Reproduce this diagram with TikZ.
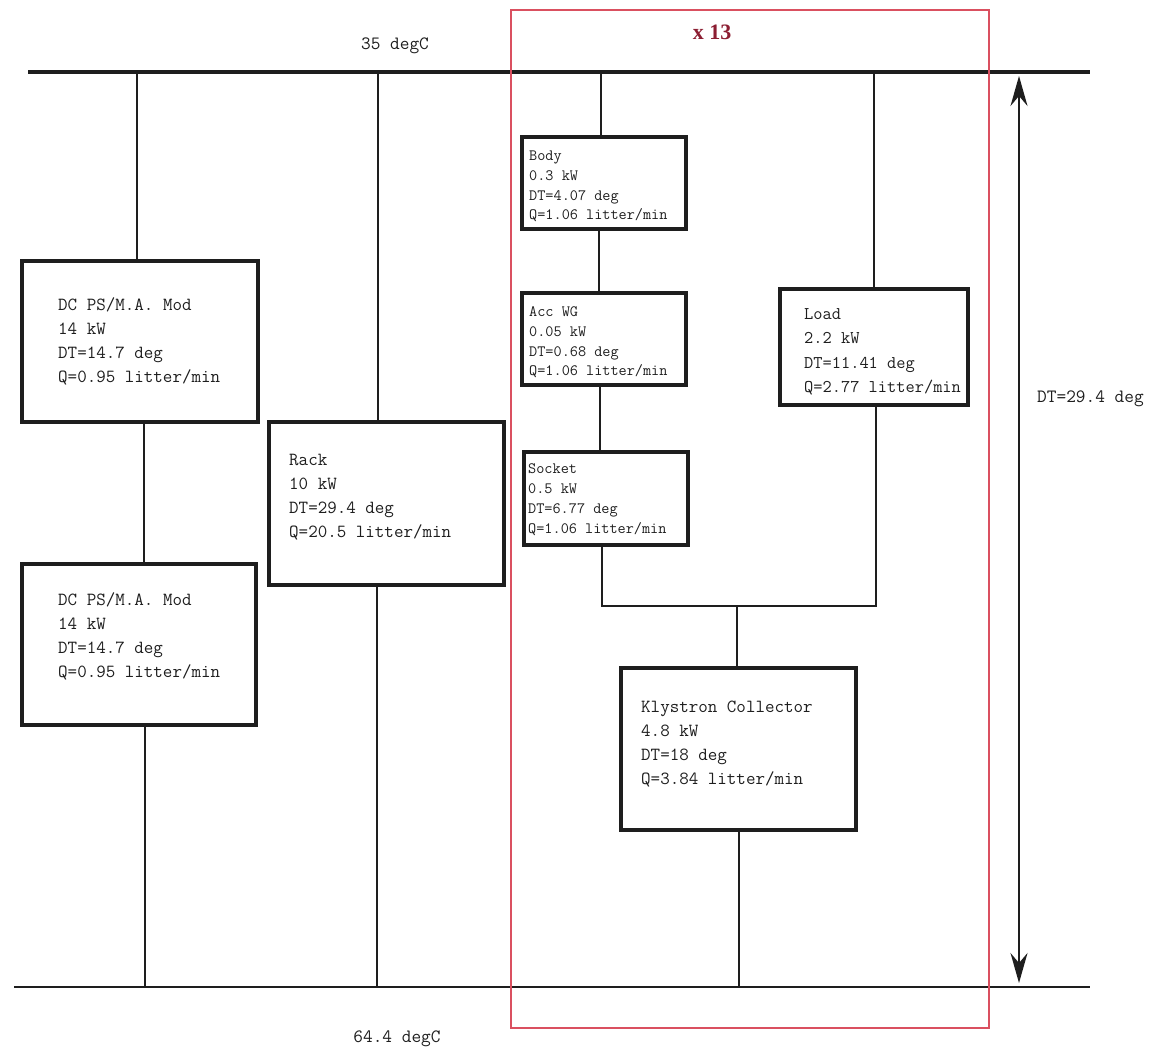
\documentclass[tikz,border=0pt]{standalone}
\usepackage{fontspec}
\newfontfamily\titlefont{Liberation Serif}
\usetikzlibrary{arrows.meta}
\definecolor{frame}{RGB}{218,80,96}
\definecolor{titlered}{RGB}{140,30,50}
\definecolor{ink}{RGB}{30,30,30}
\begin{document}
\begin{tikzpicture}[x=1pt,y=-1pt,
  box/.style={draw=ink,line width=3.3pt,inner sep=0pt},
  wire/.style={draw=ink,line width=2.8pt},
  bus/.style={draw=ink,line width=3.4pt},
  txt/.style={inner sep=0pt,anchor=base west,align=left,text=ink,font=\fontsize{18.5}{24}\selectfont\ttfamily},
  ltxt/.style={txt,font=\fontsize{17.9}{24.5}\selectfont\ttfamily},
  stxt/.style={txt,font=\fontsize{15.8}{19.7}\selectfont\ttfamily},
  lbl/.style={inner sep=0pt,text=ink,font=\fontsize{18.8}{24}\selectfont\ttfamily}]
\useasboundingbox (0,0) rectangle (1149,1048);

% buses
\coordinate (tl) at (28,72);
\coordinate (tr) at (1090,72);
\coordinate (bl) at (14,987);
\coordinate (br) at (1090,987);
\draw[bus] (tl) -- (tr);
\draw[bus,line width=2.8pt] (bl) -- (br);

% boxes
\node[box,minimum width=236,minimum height=161] (dc1) at (140,341.5) {};
\node[box,minimum width=234,minimum height=161] (dc2) at (139,644.5) {};
\node[box,minimum width=235,minimum height=163] (rack) at (386.5,503.5) {};
\node[box,minimum width=164,minimum height=92] (body) at (604,183) {};
\node[box,minimum width=164,minimum height=92] (acc) at (604,339) {};
\node[box,minimum width=164,minimum height=93] (sock) at (606,498.5) {};
\node[box,minimum width=188,minimum height=116] (load) at (874,347) {};
\node[box,minimum width=235,minimum height=162] (kly) at (738.5,749) {};

% box texts (anchored at the baseline of the last line)
\node[txt] (dc1t) at (58,383) {DC PS/M.A. Mod\\14 kW\\DT=14.7 deg\\Q=0.95 litter/min};
\node[txt] (dc2t) at (58,677) {DC PS/M.A. Mod\\14 kW\\DT=14.7 deg\\Q=0.95 litter/min};
\node[txt] (rackt) at (289,537) {Rack\\10 kW\\DT=29.4 deg\\Q=20.5 litter/min};
\node[stxt] (bodyt) at (529,220) {Body\\0.3 kW\\DT=4.07 deg\\Q=1.06 litter/min};
\node[stxt] (acct) at (529,376) {Acc WG\\0.05 kW\\DT=0.68 deg\\Q=1.06 litter/min};
\node[stxt] (sockt) at (528,533) {Socket\\0.5 kW\\DT=6.77 deg\\Q=1.06 litter/min};
\node[ltxt] (loadt) at (804,393) {Load\\2.2 kW\\DT=11.41 deg\\Q=2.77 litter/min};
\node[txt] (klyt) at (641,784) {Klystron Collector\\4.8 kW\\DT=18 deg\\Q=3.84 litter/min};

% connectors
\draw[wire] ([xshift=-3]dc1.north) -- ([xshift=-3]dc1.north |- tl);
\draw[wire] ([xshift=4]dc1.south) -- ([xshift=5]dc2.north);
\draw[wire] ([xshift=6]dc2.south) -- ([xshift=6]dc2.south |- bl);
\draw[wire] ([xshift=-8.5]rack.north) -- ([xshift=-8.5]rack.north |- tl);
\draw[wire] ([xshift=-9.5]rack.south) -- ([xshift=-9.5]rack.south |- bl);
\draw[wire] ([xshift=-3]body.north) -- ([xshift=-3]body.north |- tl);
\draw[wire] ([xshift=-5]body.south) -- ([xshift=-5]acc.north);
\draw[wire] ([xshift=-4]acc.south) -- ([xshift=-6]sock.north);
\draw[wire] (load.north) -- (load.north |- tl);
\coordinate (mj) at (737,606);
\draw[wire] ([xshift=-4]sock.south) |- (mj) -| ([xshift=2]load.south);
\draw[wire] (mj) -- ([xshift=-1.5]kly.north);
\draw[wire] ([xshift=0.5]kly.south) -- ([xshift=0.5]kly.south |- bl);

% dimension arrow
\coordinate (at) at (1019,72);
\coordinate (ab) at (1019,987);
\draw[draw=ink,line width=2.2pt,{Stealth[length=30pt,width=17pt,inset=10pt]}-{Stealth[length=30pt,width=17pt,inset=10pt]},shorten <=4pt,shorten >=4pt] (at) -- (ab);

% labels
\node[lbl,anchor=base] (tin) at (395,50) {35 degC};
\node[lbl,anchor=base] (tout) at (397,1042) {64.4 degC};
\node[lbl,anchor=base west] (dtl) at (1037,403) {DT=29.4 deg};
\node[inner sep=0pt,anchor=base,text=titlered,font=\titlefont\bfseries\fontsize{22}{26}\selectfont] (mult) at (712,40) {x 13};

% repetition frame
\draw[frame,line width=1.8pt] (511,10) rectangle (989,1028);
\end{tikzpicture}
\end{document}
